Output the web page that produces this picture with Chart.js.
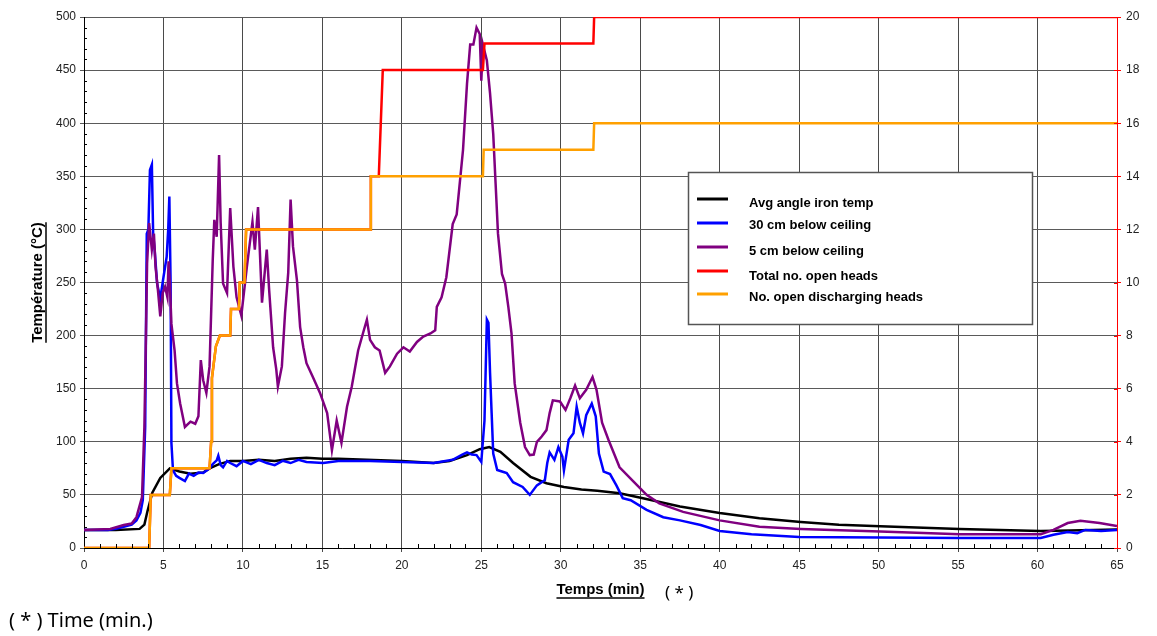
<!DOCTYPE html>
<html>
<head>
<meta charset="utf-8">
<title>Températures et têtes ouvertes</title>
<script src="https://cdn.jsdelivr.net/npm/chart.js@4/dist/chart.umd.min.js"></script>
<style>
  html, body { margin: 0; padding: 0; background: #fff; }
  #wrap { position: relative; width: 1157px; height: 636px; }
</style>
</head>
<body>
<div id="wrap"><canvas id="chart"></canvas></div>
<script>
// [temps (min), valeur]
var avgIronTemp = [[0,17],[2,17],[3.5,18],[3.8,22],[4.0,35],[4.3,52],[4.8,66],[5.4,75],[6.0,72],[6.7,70],[7.5,71],[7.9,75],[8.5,79],[9.2,82],[10,82],[11,83],[12,82],[13,84],[14,85],[15,84],[16,84],[17.8,83],[20,82],[22,80],[23,82],[24.1,87.5],[24.9,93],[25.5,95],[26.2,90.5],[27,80],[28.1,67],[29.1,61],[30.2,57.5],[31.3,55],[32.3,54],[33.7,51.5],[35.1,47],[37.5,39],[40,33],[42.5,28],[45.1,24.5],[47.5,22],[50.1,20.5],[55.1,18],[60.2,16],[62,16.5],[65,17.5]];

var below30cm = [[0,17],[1.5,17],[2,18],[2.5,20],[3.0,22],[3.3,26],[3.55,33],[3.7,45],[3.85,114],[3.95,296],[4.05,300],[4.15,356],[4.27,361],[4.35,296],[4.45,280],[4.6,249],[4.8,235],[5.0,255],[5.2,274],[5.3,300],[5.37,331],[5.45,249],[5.5,99],[5.6,73],[5.8,68],[6.0,66],[6.35,63],[6.6,70],[6.9,68],[7.2,71],[7.5,70.6],[7.9,75],[8.1,79],[8.35,82.5],[8.45,87],[8.6,78],[8.75,76],[9.0,82],[9.2,80],[9.6,77],[10,82],[10.5,79],[11,83],[11.5,80],[12,78],[12.5,82],[13,80],[13.5,83],[14,81],[15.05,80],[16,82],[18,82],[20,81],[22,80],[23.2,83],[23.8,88],[24.1,90],[24.4,88],[24.7,87.5],[25.0,81],[25.2,120],[25.35,215],[25.45,212],[25.55,165],[25.65,127],[25.75,89],[26.0,73.5],[26.3,72],[26.6,70.6],[27,62],[27.6,57.5],[28.05,50],[28.5,59],[29.0,64],[29.15,80],[29.3,90],[29.6,83],[29.85,95],[30.1,86],[30.2,73],[30.5,102],[30.8,108],[31.0,133],[31.2,118],[31.4,108],[31.6,125],[31.95,136],[32.2,124],[32.4,89],[32.7,72],[33.1,69.6],[33.5,59],[33.9,47],[34.4,45],[35.4,36],[36.45,29],[37.5,26],[38.8,21.6],[40,16],[42,13],[45,10.4],[50,10],[55,9.4],[60.2,9.4],[61,12.5],[61.9,15],[62.5,14],[63,17],[64,16],[65,17]];

var below5cm = [[0,17],[1.65,18],[2.5,21.7],[3.0,23],[3.3,29],[3.65,48],[3.8,114],[3.9,202],[3.97,268],[4.1,306],[4.27,281],[4.4,296],[4.5,265],[4.65,243],[4.8,218],[4.95,240],[5.1,246],[5.25,236],[5.32,270],[5.4,250],[5.5,211],[5.7,186],[5.85,155],[6.05,136],[6.35,114],[6.7,119],[7.0,117],[7.2,124],[7.35,177],[7.5,158],[7.7,146],[7.9,171],[8.1,271],[8.2,309],[8.35,293],[8.5,370],[8.6,306],[8.75,249],[9.0,240],[9.2,320],[9.4,265],[9.6,236],[9.9,219],[10.25,265],[10.6,307],[10.75,281],[10.95,321],[11.2,231],[11.5,281],[11.65,243],[11.9,189],[12.1,168],[12.2,152],[12.45,171],[12.65,221],[12.85,259],[13.0,328],[13.15,284],[13.4,252],[13.6,208],[13.8,189],[14.0,174],[14.4,161],[14.85,146],[15.3,127],[15.6,92],[15.9,120],[16.2,99],[16.55,133],[16.85,152],[17.25,186],[17.55,202],[17.8,215],[18.0,196],[18.3,189],[18.6,186],[18.95,165],[19.25,171],[19.7,183],[20.1,189],[20.5,185],[20.95,194],[21.35,199],[21.8,202],[22.1,205],[22.2,227],[22.5,236],[22.8,255],[23.2,305],[23.45,314],[23.7,352],[23.85,375],[24.1,437],[24.3,474],[24.5,474],[24.7,490],[24.9,484],[25.0,440],[25.1,474],[25.35,459],[25.55,428],[25.75,390],[25.9,343],[26.05,296],[26.3,258],[26.5,249],[26.7,227],[26.9,202],[27.1,155],[27.45,118],[27.75,95],[28.05,87.5],[28.3,88],[28.5,100],[28.8,105],[29.1,111],[29.3,127],[29.5,139],[29.95,138],[30.3,130],[30.6,141],[30.9,153],[31.2,141],[31.6,149],[32.0,161],[32.25,149],[32.6,118],[33.0,102],[33.7,76],[34.55,63],[35.4,50],[36.2,42],[37.7,34],[40,26],[42.5,20],[45.1,18],[50.1,15.5],[55.1,13],[60.2,13],[61,17],[61.9,23.5],[62.7,25.6],[63.9,23.5],[65,20.7]];

var totalHeads = [[0,0],[4.1,0],[4.2,2],[5.4,2],[5.5,3],[7.9,3],[8.0,4],[8.05,6.4],[8.3,7.6],[8.55,8],[9.2,8],[9.25,9],[9.75,9],[9.8,10],[10.1,10],[10.2,12],[18.0,12],[18.05,14],[18.55,14],[18.8,18],[25.1,18],[25.2,19],[32.05,19],[32.1,20],[65,20]];

var dischargingHeads = [[0,0],[4.1,0],[4.2,2],[5.4,2],[5.5,3],[7.9,3],[8.0,4],[8.05,6.4],[8.3,7.6],[8.55,8],[9.2,8],[9.25,9],[9.75,9],[9.8,10],[10.1,10],[10.2,12],[18.0,12],[18.05,14],[25.1,14],[25.15,15],[32.05,15],[32.1,16],[65,16]];

var seriesLabels = ['Avg angle iron temp', '30 cm below ceiling', '5 cm below ceiling', 'Total no. open heads', 'No. open discharging heads'];
var seriesColors = ['#000000', '#0000ff', '#800080', '#ff0000', '#ffa000'];
var xTitle = 'Temps (min)';
var yTitle = 'Température (°C)';

function toPoints(arr) {
  return arr.map(function(p) { return { x: p[0], y: p[1] }; });
}

function makeSet(i, data, axis) {
  return {
    label: seriesLabels[i],
    data: toPoints(data),
    yAxisID: axis,
    borderColor: seriesColors[i],
    backgroundColor: seriesColors[i],
    borderWidth: 2.5,
    pointRadius: 0,
    tension: 0,
    fill: false,
    order: 5 - i
  };
}

var tickFont = { family: "'Liberation Sans', Arial, sans-serif", size: 12 };

// axes titles, minor ticks, legend box and notes
var decorPlugin = {
  id: 'decor',
  afterDraw: function(chart) {
    var ctx = chart.ctx;
    var a = chart.chartArea;
    var sx = chart.scales.x, sy = chart.scales.y, sy2 = chart.scales.y2;
    ctx.save();

    ctx.lineWidth = 1;
    ctx.strokeStyle = '#000';
    ctx.beginPath();
    for (var m = 1; m < 65; m++) {
      if (m % 5 === 0) continue;
      var px = Math.round(sx.getPixelForValue(m)) + 0.5;
      ctx.moveTo(px, a.bottom);
      ctx.lineTo(px, a.bottom - 4);
    }
    for (var t = 10; t < 500; t += 10) {
      if (t % 50 === 0) continue;
      var py = Math.round(sy.getPixelForValue(t)) + 0.5;
      ctx.moveTo(a.left, py);
      ctx.lineTo(a.left + 3, py);
    }
    ctx.stroke();

    ctx.strokeStyle = '#ff0000';
    ctx.beginPath();
    for (var r = 0; r <= 20; r += 2) {
      var ry = Math.round(sy2.getPixelForValue(r)) + 0.5;
      ctx.moveTo(a.right - 3, ry);
      ctx.lineTo(a.right, ry);
    }
    ctx.stroke();

    // legend
    var lx = 688, ly = 172, lw = 344, lh = 152;
    ctx.fillStyle = '#fff';
    ctx.fillRect(lx, ly, lw, lh);
    ctx.strokeStyle = '#555';
    ctx.lineWidth = 1.5;
    ctx.strokeRect(lx + 0.5, ly + 0.5, lw, lh);
    var lineYs = [199, 223, 247, 271, 294];
    var textYs = [203, 225, 251, 276, 297];
    ctx.font = "bold 13px 'Liberation Sans', Arial, sans-serif";
    ctx.textBaseline = 'middle';
    ctx.textAlign = 'left';
    for (var i = 0; i < seriesLabels.length; i++) {
      ctx.strokeStyle = seriesColors[i];
      ctx.lineWidth = 3;
      ctx.beginPath();
      ctx.moveTo(697, lineYs[i]);
      ctx.lineTo(728, lineYs[i]);
      ctx.stroke();
      ctx.fillStyle = '#000';
      ctx.fillText(seriesLabels[i], 749, textYs[i]);
    }

    // axis titles, underlined
    ctx.font = "bold 15px 'Liberation Sans', Arial, sans-serif";
    ctx.fillStyle = '#000';
    ctx.strokeStyle = '#000';
    ctx.lineWidth = 1.5;
    ctx.textAlign = 'center';
    var cx = (a.left + a.right) / 2;
    var w = ctx.measureText(xTitle).width;
    ctx.fillText(xTitle, cx, 590);
    ctx.beginPath();
    ctx.moveTo(cx - w / 2, 598);
    ctx.lineTo(cx + w / 2, 598);
    ctx.stroke();

    ctx.save();
    ctx.translate(38, (a.top + a.bottom) / 2);
    ctx.rotate(-Math.PI / 2);
    w = ctx.measureText(yTitle).width;
    ctx.fillText(yTitle, 0, 0);
    ctx.beginPath();
    ctx.moveTo(-w / 2, 8);
    ctx.lineTo(w / 2, 8);
    ctx.stroke();
    ctx.restore();

    ctx.textAlign = 'left';
    ctx.font = "17px 'Noto Sans', sans-serif";
    ctx.fillText('( * )', 665, 593);
    ctx.font = "20px 'Noto Sans', sans-serif";
    ctx.fillText('( * ) Time (min.)', 9, 621);
    ctx.restore();
  }
};

new Chart(document.getElementById('chart'), {
  type: 'line',
  data: {
    datasets: [
      makeSet(0, avgIronTemp, 'y'),
      makeSet(1, below30cm, 'y'),
      makeSet(2, below5cm, 'y'),
      makeSet(3, totalHeads, 'y2'),
      makeSet(4, dischargingHeads, 'y2')
    ]
  },
  options: {
    responsive: true,
    maintainAspectRatio: false,
    animation: false,
    layout: { padding: { top: 17, left: 0, right: 0, bottom: 0 } },
    plugins: {
      legend: { display: false },
      tooltip: { enabled: false }
    },
    scales: {
      x: {
        type: 'linear',
        min: 0,
        max: 65,
        afterFit: function(s) { s.height = 88; },
        ticks: { stepSize: 5, color: '#222', font: tickFont, padding: 6, maxRotation: 0 },
        grid: { color: '#4a4a4a', tickLength: 4 },
        border: { color: '#000' }
      },
      y: {
        position: 'left',
        min: 0,
        max: 500,
        afterFit: function(s) { s.width = 84; },
        ticks: { stepSize: 50, color: '#222', font: tickFont, padding: 4 },
        grid: { color: '#5a5a5a', tickLength: 4 },
        border: { color: '#000' }
      },
      y2: {
        position: 'right',
        min: 0,
        max: 20,
        afterFit: function(s) { s.width = 40; },
        ticks: { stepSize: 2, color: '#222', font: tickFont, padding: 5 },
        grid: { drawOnChartArea: false, color: '#ff0000', tickLength: 4 },
        border: { color: '#ff0000' }
      }
    }
  },
  plugins: [decorPlugin]
});
</script>
</body>
</html>
